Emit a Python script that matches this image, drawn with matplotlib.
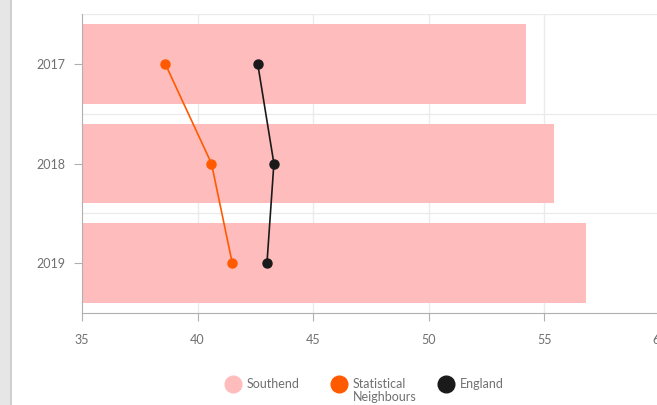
import matplotlib.pyplot as plt
from matplotlib.lines import Line2D
from matplotlib.patches import Rectangle

years = ['2017', '2018', '2019']
southend = [54.2, 55.4, 56.8]
stat_neighbours = [38.6, 40.6, 41.5]
england = [42.6, 43.3, 43.0]

plt.rcParams['font.family'] = ['Lato', 'DejaVu Sans']

fig = plt.figure(figsize=(6.57, 4.05), dpi=100)
W, H = 657.0, 405.0

# grey strip on the left edge
fig.patches.append(Rectangle((0, 0), 10 / W, 1, transform=fig.transFigure,
                             facecolor='#e6e6e6', edgecolor='none'))
fig.patches.append(Rectangle((10 / W, 0), 2 / W, 1, transform=fig.transFigure,
                             facecolor='#cfcfcf', edgecolor='none'))

ax = fig.add_axes([82 / W, (H - 313) / H, (660 - 82) / W, (313 - 14) / H])
y = list(range(len(years)))

ax.barh(y, southend, height=0.8, color='#ffbcbc', zorder=2)
ax.plot(stat_neighbours, y, color='#ff5a00', lw=1.2, marker='o', ms=6.5, zorder=3)
ax.plot(england, y, color='#1a1a1a', lw=1.2, marker='o', ms=6.5, zorder=3)

ax.set_xlim(35, 60)
ax.set_ylim(2.5, -0.5)
ax.set_yticks(y)
ax.set_yticklabels(years)
ax.set_xticks([35, 40, 45, 50, 55, 60])

# grid: vertical at ticks, horizontal between categories
for xv in [40, 45, 50, 55, 60]:
    ax.axvline(xv, color='#ebebeb', lw=1, zorder=1)
for yv in [-0.5, 0.5, 1.5]:
    ax.axhline(yv, color='#ebebeb', lw=1, zorder=1)

for s in ['top', 'right']:
    ax.spines[s].set_visible(False)
ax.spines['left'].set_color('#b0b0b0')
ax.spines['bottom'].set_color('#b0b0b0')
ax.tick_params(axis='both', colors='#b0b0b0', labelcolor='#707070', labelsize=9)
ax.tick_params(axis='y', length=6, pad=6)
ax.tick_params(axis='x', length=6, pad=9)

# legend below the plot
items = [('Southend', '#ffbcbc', 233), ('Statistical\nNeighbours', '#ff5a00', 339),
         ('England', '#1a1a1a', 446)]
for label, col, xp in items:
    fig.add_artist(Line2D([xp / W], [(H - 384) / H], marker='o', ms=12,
                          color=col, transform=fig.transFigure, ls='none'))
    fig.text((xp + 14) / W, (H - 384) / H + 0.014, label, color='#707070', fontsize=9,
             va='top', ha='left', linespacing=1.05)

fig.savefig('out.png', dpi=100)
